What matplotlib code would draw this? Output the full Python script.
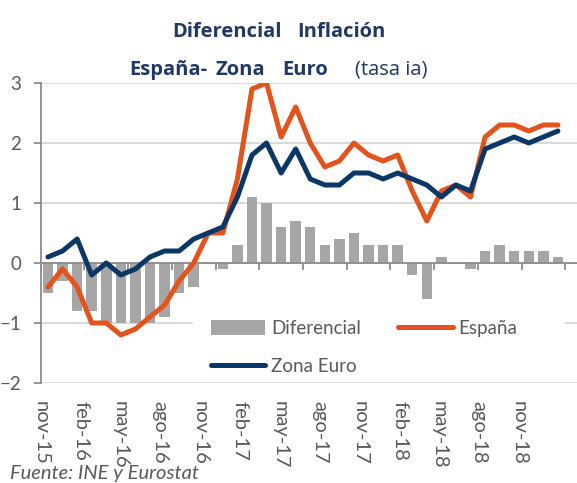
import numpy as np
import matplotlib
matplotlib.use('Agg')
import matplotlib.pyplot as plt
from matplotlib.patches import Rectangle, Patch
from matplotlib.lines import Line2D

plt.rcParams['font.family'] = ['Lato', 'DejaVu Sans']

# datos mensuales nov-15 .. oct-18 (tasa interanual, %)
espana = [-0.4, -0.1, -0.4, -1.0, -1.0, -1.2, -1.1, -0.9, -0.7, -0.3,
          0.0, 0.5, 0.5, 1.4, 2.9, 3.0, 2.1, 2.6, 2.0, 1.6,
          1.7, 2.0, 1.8, 1.7, 1.8, 1.2, 0.7, 1.2, 1.3, 1.1,
          2.1, 2.3, 2.3, 2.2, 2.3, 2.3]
zona_euro = [0.1, 0.2, 0.4, -0.2, 0.0, -0.2, -0.1, 0.1, 0.2, 0.2,
             0.4, 0.5, 0.6, 1.1, 1.8, 2.0, 1.5, 1.9, 1.4, 1.3,
             1.3, 1.5, 1.5, 1.4, 1.5, 1.4, 1.3, 1.1, 1.3, 1.2,
             1.9, 2.0, 2.1, 2.0, 2.1, 2.2]
diferencial = [-0.5, -0.3, -0.8, -0.8, -1.0, -1.0, -1.0, -1.0, -0.9, -0.5,
               -0.4, 0.0, -0.1, 0.3, 1.1, 1.0, 0.6, 0.7, 0.6, 0.3,
               0.4, 0.5, 0.3, 0.3, 0.3, -0.2, -0.6, 0.1, 0.0, -0.1,
               0.2, 0.3, 0.2, 0.2, 0.2, 0.1]
etiquetas = ['nov-15', 'feb-16', 'may-16', 'ago-16', 'nov-16', 'feb-17', 'may-17',
             'ago-17', 'nov-17', 'feb-18', 'may-18', 'ago-18', 'nov-18']

NARANJA = '#E2541B'
AZUL = '#0A3766'
GRIS = '#A6A6A6'
TXT = '#595959'
EJE = '#8C8C8C'
TITULO = '#1F3864'

W, H = 577, 483
fig = plt.figure(figsize=(W / 100, H / 100), dpi=100)
x0 = 40.7
ax = fig.add_axes([x0 / W, 1 - 383 / H, 1 - x0 / W, 300 / H])

x = np.arange(len(espana))
ax.bar(x, diferencial, width=0.72, color=GRIS, zorder=2)
ax.plot(x, espana, color=NARANJA, lw=3.6, solid_capstyle='round', solid_joinstyle='round', zorder=3)
ax.plot(x, zona_euro, color=AZUL, lw=3.6, solid_capstyle='round', solid_joinstyle='round', zorder=4)

paso = 14.57  # px por mes
ax.set_xlim(-0.5, -0.5 + (W - x0) / paso)
ax.set_ylim(-2, 3)
ax.set_yticks([-2, -1, 0, 1, 2, 3])
ax.set_axisbelow(True)
ax.yaxis.grid(True, color='#D9D9D9', lw=1.4)
for s in ['top', 'right']:
    ax.spines[s].set_visible(False)
ax.spines['bottom'].set_position(('data', 0))
ax.spines['bottom'].set_color(EJE)
ax.spines['bottom'].set_linewidth(1.3)
ax.spines['left'].set_color(EJE)
ax.spines['left'].set_linewidth(1.3)
ax.set_xticks(np.arange(-0.5, len(espana), 3))
ax.set_xticklabels([])
ax.tick_params(axis='x', direction='out', length=5, color=EJE, width=1.3)
ax.tick_params(axis='y', direction='out', length=5, color=EJE, width=1.3,
               labelsize=13.5, labelcolor=TXT, pad=9)

# eje de etiquetas (no coincide con las categorias, como en el original)
ax2 = ax.twiny()
ax2.set_xlim(0, (W - 40) / 39.92)
ax2.set_xticks(np.arange(len(etiquetas)))
ax2.set_xticklabels(etiquetas, rotation=-90, fontsize=14.5, color=TXT)
ax2.xaxis.set_ticks_position('bottom')
ax2.xaxis.set_label_position('bottom')
ax2.tick_params(axis='x', length=0, pad=13)
for s in ax2.spines.values():
    s.set_visible(False)

# fondo blanco de la leyenda
ax.add_patch(Rectangle((193 / W, 1 - 378 / H), 372 / W, 78 / H, transform=fig.transFigure,
                       facecolor='white', edgecolor='none', zorder=5))
handles = [Patch(facecolor=GRIS),
           Line2D([], [], color=AZUL, lw=3.6, solid_capstyle='round'),
           Line2D([], [], color=NARANJA, lw=3.6, solid_capstyle='round')]
labels = ['Diferencial', 'Zona Euro', 'España']
leg = ax.legend(handles, labels, ncol=2, frameon=False, loc='upper left',
                bbox_to_anchor=(211 / W, 1 - 320 / H), bbox_transform=fig.transFigure,
                borderpad=0, borderaxespad=0, fontsize=13.5, handlelength=2.9,
                handleheight=0.8, handletextpad=0.3, columnspacing=2.0, labelspacing=1.1)
leg.set_zorder(6)
for t in leg.get_texts():
    t.set_color(TXT)

# titulo palabra a palabra (espaciado amplio del original)
titulo = [('Diferencial', 172, 37, 'bold'), ('Inflación', 297, 37, 'bold'),
          ('España-', 129, 75, 'bold'), ('Zona', 215, 75, 'bold'),
          ('Euro', 282, 75, 'bold'), ('(tasa ia)', 355, 75, 'normal')]
for txt, px, py, peso in titulo:
    fig.text(px / W, 1 - py / H, txt, ha='left', va='baseline', family=['Open Sans', 'DejaVu Sans'],
             fontsize=14.5, fontweight=peso, color=TITULO)

fig.text(10 / W, 1 - 479 / H, 'Fuente: INE y Eurostat', ha='left', va='baseline',
         fontsize=14.5, style='italic', color=TXT)

fig.savefig('out.png', dpi=100)
